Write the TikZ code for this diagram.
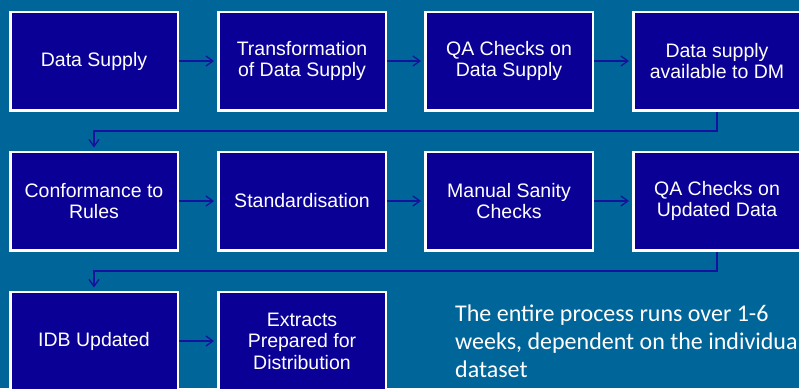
\documentclass[tikz,border=0pt]{standalone}
\usepackage{fontspec}
\setmainfont{Liberation Sans}
\newfontfamily\notefont{Carlito}
\usetikzlibrary{arrows.meta}

\begin{document}
\begin{tikzpicture}[x=1pt, y=-1pt, >={Straight Barb[length=7pt,width=10pt]}] % open heads like the slide

    % Colours of the slide
    \definecolor{slidebg}{RGB}{0,101,153}
    \definecolor{boxfill}{RGB}{10,0,150}
    \definecolor{flowline}{RGB}{22,18,160}

    % Style for the process boxes and the arrows between them
    \tikzset{stage/.style={draw=white, line width=2.5pt, fill=boxfill, text=white,
        minimum width=167.5pt, minimum height=98.5pt, align=center,
        font=\fontsize{19.5}{21.5}\selectfont}}
    \tikzset{flow/.style={flowline, line width=1.3pt, ->, shorten >=3pt}}

    % Slide area (boxes on the right and bottom run past it)
    \useasboundingbox (0,0) rectangle (799,388);
    \clip (0,0) rectangle (799,388);
    \fill[slidebg] (0,0) rectangle (799,388);

    % First row
    \node[stage] (supply) at (94,61) {Data Supply};
    \node[stage] (transform) at (302,61) {Transformation\\of Data Supply};
    \node[stage] (qasupply) at (509,61) {QA Checks on\\Data Supply};
    \node[stage] (available) at (717,61) {Data supply\\available to DM};

    % Second row
    \node[stage] (conform) at (94,201) {Conformance to\\Rules};
    \node[stage] (standard) at (302,201) {Standardisation};
    \node[stage] (sanity) at (509,201) {Manual Sanity\\Checks};
    \node[stage] (qaupdated) at (717,201) {QA Checks on\\Updated Data};

    % Third row
    \node[stage] (idb) at (94,341) {IDB Updated};
    \node[stage] (extracts) at (302,341) {Extracts\\Prepared for\\Distribution};

    % Note on the duration
    \node[anchor=north west, align=left, inner sep=0pt, text=white,
        font=\notefont\fontsize{24}{28}\selectfont] (note) at (455,305)
        {The entire process runs over 1-6\\weeks, dependent on the individual\\dataset};

    % Arrows along each row
    \draw[flow] (supply) -- (transform);
    \draw[flow] (transform) -- (qasupply);
    \draw[flow] (qasupply) -- (available);
    \draw[flow] (conform) -- (standard);
    \draw[flow] (standard) -- (sanity);
    \draw[flow] (sanity) -- (qaupdated);
    \draw[flow] (idb) -- (extracts);

    % Arrows back to the start of the next row
    \draw[flow] (available.south) -- ++(0,19.5) -| (conform.north);
    \draw[flow] (qaupdated.south) -- ++(0,19.5) -| (idb.north);

\end{tikzpicture}
\end{document}
